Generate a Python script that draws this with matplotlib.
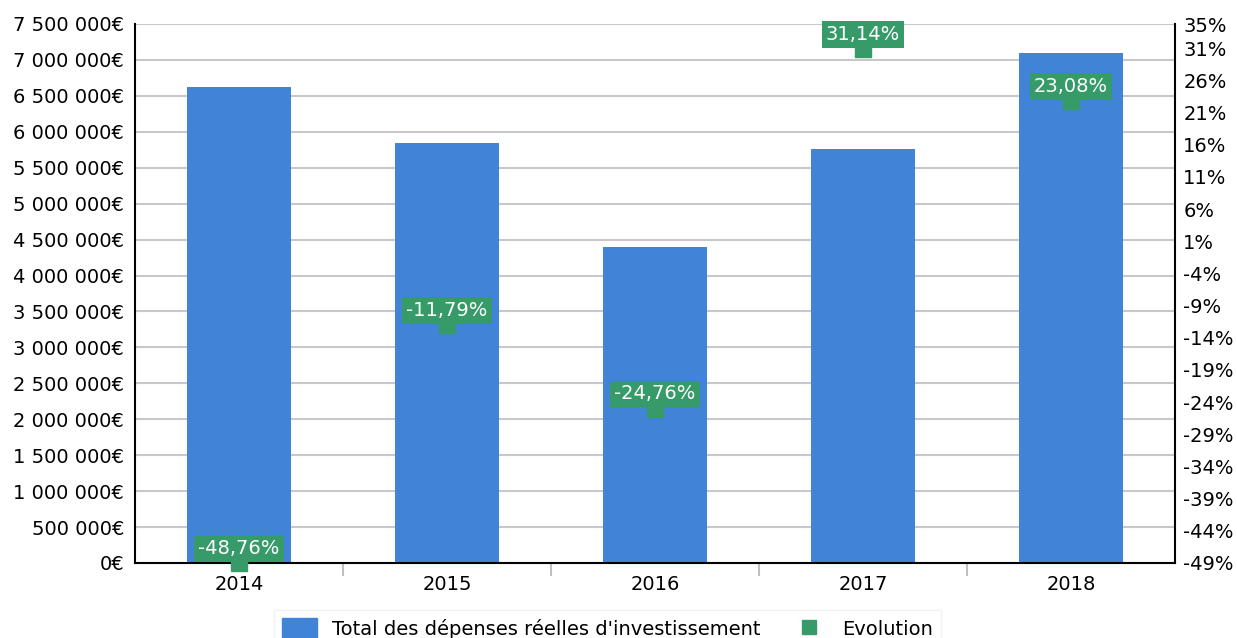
import matplotlib as mpl
import matplotlib.pyplot as plt
import numpy as np
from matplotlib.patches import Patch
from matplotlib.lines import Line2D

mpl.use('Agg')
mpl.rc("font", family="DejaVu Sans", size=14)

years = ["2014", "2015", "2016", "2017", "2018"]
depenses = [6619000, 5838000, 4393000, 5761000, 7091000]
evolution = [-48.76, -11.79, -24.76, 31.14, 23.08]
evo_labels = ["-48,76%", "-11,79%", "-24,76%", "31,14%", "23,08%"]

blue = "#4183d7"
green = "#379a69"

def euro(v, pos=None):
    return "{:,.0f}€".format(v).replace(",", " ")

fig = plt.figure(figsize=(12.37, 6.38), dpi=100)
ax = fig.add_axes([135 / 1237, 1 - 563 / 638, 1040 / 1237, 539 / 638])
x = np.arange(len(years))

ax.bar(x, depenses, width=0.5, color=blue, zorder=2)
ax.set_xlim(-0.5, len(years) - 0.5)
ax.set_ylim(0, 7500000)
ax.set_yticks(np.arange(0, 7500001, 500000))
ax.yaxis.set_major_formatter(mpl.ticker.FuncFormatter(euro))
ax.yaxis.grid(True, color="#c8c8c8", lw=1.5, zorder=0)
ax.tick_params(axis="y", length=0, pad=8, labelsize=14)
ax.set_xticks(x)
ax.set_xticklabels(years)
ax.set_xticks(np.arange(0.5, len(years) - 0.5, 1), minor=True)
ax.tick_params(axis="x", which="major", length=0, pad=9, labelsize=14)
ax.tick_params(axis="x", which="minor", length=9, color="#c0c0c0", width=1.5)
for s in ["left", "bottom"]:
    ax.spines[s].set_linewidth(1.5)
    ax.spines[s].set_color("black")
ax.spines["top"].set_visible(False)
ax.spines["right"].set_visible(False)

ax2 = ax.twinx()
ax2.set_ylim(-48.76, 35.0)
rticks = list(np.arange(-48.76, 32, 5)) + [35.0]
ax2.set_yticks(rticks)
ax2.set_yticklabels(["{:.0f}%".format(round(t)) for t in rticks])
ax2.tick_params(axis="y", length=0, pad=6, labelsize=14)
for s in ["left", "top", "bottom"]:
    ax2.spines[s].set_visible(False)
ax2.spines["right"].set_linewidth(1.5)
ax2.spines["right"].set_color("black")

ax2.plot(x, evolution, ls="none", marker="s", ms=11, color=green, clip_on=False, zorder=3)
for xi, v, lab in zip(x, evolution, evo_labels):
    ax2.annotate(lab, (xi, v), xytext=(0, 10.5), textcoords="offset points",
                 ha="center", va="center", color="white", fontsize=14,
                 bbox=dict(boxstyle="square,pad=0.2", fc=green, ec="none"),
                 annotation_clip=False, zorder=4)

handles = [Patch(color=blue, label="Total des dépenses réelles d'investissement"),
           Line2D([], [], ls="none", marker="s", ms=10, color=green, label="Evolution")]
fig.legend(handles=handles, loc="upper center", bbox_to_anchor=(0.491, 0.044), ncol=2,
           fontsize=14, frameon=True, edgecolor="#eeeeee", fancybox=False,
           handlelength=1.8, handleheight=1.4, columnspacing=1.6, borderaxespad=0)

fig.savefig("out.png", dpi=100)
